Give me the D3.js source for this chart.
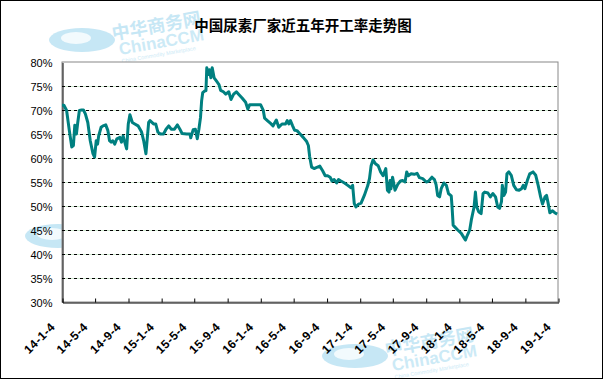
<!DOCTYPE html>
<html><head><meta charset="utf-8">
<script src="https://cdn.jsdelivr.net/npm/d3@7/dist/d3.min.js"></script>
<style>
html,body{margin:0;padding:0;background:#fff;}
svg{display:block;}
</style></head>
<body><svg id="c" width="606" height="381"></svg>
<script>
const title = "中国尿素厂家近五年开工率走势图";
const yTicks = [30,35,40,45,50,55,60,65,70,75,80];
const xTickDates = ["2014-01-04","2014-05-04","2014-09-04","2015-01-04","2015-05-04","2015-09-04","2016-01-04","2016-05-04","2016-09-04","2017-01-04","2017-05-04","2017-09-04","2018-01-04","2018-05-04","2018-09-04","2019-01-04"];
const dates = ["2014-01-04","2014-01-11","2014-01-21","2014-01-31","2014-02-09","2014-02-15","2014-02-20","2014-02-26","2014-03-03","2014-03-09","2014-03-17","2014-03-24","2014-03-31","2014-04-09","2014-04-18","2014-04-28","2014-05-04","2014-05-10","2014-05-15","2014-05-19","2014-05-28","2014-06-04","2014-06-14","2014-06-22","2014-06-28","2014-07-04","2014-07-10","2014-07-17","2014-07-25","2014-08-05","2014-08-11","2014-08-17","2014-08-23","2014-08-30","2014-09-05","2014-09-11","2014-09-20","2014-09-29","2014-10-11","2014-10-24","2014-11-01","2014-11-09","2014-11-19","2014-11-24","2014-12-07","2014-12-15","2014-12-23","2015-01-01","2015-01-13","2015-01-22","2015-02-01","2015-02-10","2015-02-22","2015-03-05","2015-03-14","2015-03-22","2015-04-08","2015-04-20","2015-04-23","2015-05-02","2015-05-10","2015-05-17","2015-05-23","2015-05-29","2015-06-02","2015-06-06","2015-06-14","2015-06-18","2015-06-21","2015-06-26","2015-07-01","2015-07-06","2015-07-11","2015-07-18","2015-07-27","2015-08-05","2015-08-11","2015-08-21","2015-08-30","2015-09-10","2015-09-18","2015-09-28","2015-10-08","2015-10-16","2015-10-29","2015-11-11","2015-11-19","2015-11-26","2015-12-11","2016-01-05","2016-01-15","2016-01-20","2016-01-30","2016-02-11","2016-02-20","2016-03-03","2016-03-12","2016-03-24","2016-04-06","2016-04-12","2016-04-18","2016-04-24","2016-05-02","2016-05-09","2016-05-18","2016-05-28","2016-06-10","2016-06-22","2016-06-29","2016-07-04","2016-07-11","2016-07-20","2016-07-28","2016-08-10","2016-08-20","2016-08-30","2016-09-08","2016-09-17","2016-09-24","2016-10-02","2016-10-11","2016-10-18","2016-10-27","2016-11-09","2016-11-21","2016-12-03","2016-12-09","2016-12-15","2016-12-21","2016-12-31","2017-01-09","2017-01-21","2017-02-03","2017-02-09","2017-02-15","2017-02-22","2017-03-03","2017-03-13","2017-03-22","2017-03-31","2017-04-10","2017-04-16","2017-04-22","2017-04-26","2017-04-29","2017-05-05","2017-05-14","2017-05-24","2017-06-03","2017-06-11","2017-06-20","2017-06-26","2017-07-02","2017-07-12","2017-07-24","2017-08-03","2017-08-12","2017-08-24","2017-09-06","2017-09-15","2017-09-27","2017-10-06","2017-10-12","2017-10-18","2017-10-25","2017-10-31","2017-11-10","2017-11-19","2017-11-27","2017-12-07","2017-12-10","2017-12-14","2017-12-19","2017-12-31","2018-01-13","2018-01-28","2018-02-05","2018-02-13","2018-02-19","2018-03-01","2018-03-06","2018-03-11","2018-03-18","2018-03-27","2018-04-03","2018-04-09","2018-04-21","2018-04-30","2018-05-09","2018-05-19","2018-05-27","2018-06-03","2018-06-10","2018-06-13","2018-06-19","2018-06-25","2018-06-30","2018-07-07","2018-07-16","2018-07-25","2018-08-04","2018-08-14","2018-08-23","2018-08-29","2018-09-04","2018-09-13","2018-09-22","2018-10-04","2018-10-14","2018-10-23","2018-11-01","2018-11-08","2018-11-17","2018-11-23","2018-11-29","2018-12-05","2018-12-15","2018-12-23","2019-01-01"];
const rates = [71.0,71.0,69.9,65.7,62.3,62.6,66.8,65.0,67.4,69.9,70.0,70.0,69.2,67.4,63.6,60.9,60.2,63.6,62.9,64.6,66.4,66.7,66.9,65.7,63.6,63.3,63.6,62.9,64.0,64.3,63.3,64.6,63.3,61.9,67.1,69.0,67.4,67.1,66.7,65.4,63.5,60.9,67.4,67.8,67.1,67.1,65.4,65.0,65.0,66.0,66.7,66.0,66.0,66.9,66.0,65.1,65.0,65.0,64.2,65.9,66.0,64.0,66.0,68.5,71.9,73.6,74.0,74.0,78.8,77.4,78.4,76.7,78.8,76.7,76.0,75.3,74.1,73.8,73.3,73.8,72.2,73.3,73.8,73.3,72.5,71.6,70.2,71.1,71.1,71.1,69.9,68.3,67.8,67.2,66.7,67.9,66.4,67.1,67.1,67.8,67.1,67.8,66.7,65.8,65.7,65.1,64.3,63.5,62.6,60.2,58.1,57.8,58.0,58.3,57.4,56.3,56.3,56.0,55.2,55.5,54.8,55.5,55.2,54.8,54.3,53.8,54.3,50.5,49.8,50.4,50.6,52.2,54.3,55.7,58.4,59.6,58.8,58.4,57.1,56.3,57.8,53.3,52.9,55.3,53.6,56.0,53.3,54.5,55.2,55.3,55.0,57.1,56.3,56.7,56.6,56.8,55.9,55.7,55.0,55.2,56.0,55.5,54.5,52.2,51.9,53.6,54.8,54.3,52.6,52.1,49.8,46.0,45.7,45.0,44.3,42.9,44.0,45.0,47.1,49.8,52.9,49.8,48.8,48.4,52.6,52.9,52.7,51.9,52.6,51.9,49.8,49.5,50.9,54.3,52.2,52.9,56.7,57.1,56.4,54.3,53.4,53.3,53.6,54.3,53.6,55.3,56.7,57.1,56.4,54.3,51.9,50.4,51.9,52.2,50.5,48.6,49.0,48.6,48.3];

const svg = d3.select("#c");
const W = 606, H = 381;
const M = {left:62, right:558, top:62, bottom:302};
const parse = d3.timeParse("%Y-%m-%d");
const fmt = d3.timeFormat("%y-%-m-%-d");
const data = dates.map((d,i)=>({date:parse(d), v:rates[i]}));
const tickDates = xTickDates.map(parse);

const x = d3.scaleTime().domain([tickDates[0], tickDates[tickDates.length-1]]).range([M.left, M.right]);
const y = d3.scaleLinear().domain([30,80]).range([M.bottom, M.top]);

svg.append("rect").attr("width",W).attr("height",H).attr("fill","#fff");

// watermarks (faint logos)
function watermark(cx, cy, op){
  const g = svg.append("g").attr("transform",`translate(${cx},${cy})`).attr("opacity",op);
  g.append("ellipse").attr("cx",0).attr("cy",0).attr("rx",33).attr("ry",12).attr("fill","#8fd0ec");
  g.append("ellipse").attr("cx",-6).attr("cy",-2).attr("rx",15).attr("ry",6).attr("fill","#e6f6fc");
  g.append("text").attr("x",31).attr("y",0).attr("transform","rotate(-10 31 0)")
    .attr("font-family","Noto Sans CJK SC").attr("font-size",18).attr("font-weight","bold").attr("fill","#8fd0ec").text("中华商务网");
  g.append("text").attr("x",38).attr("y",15).attr("transform","rotate(-10 38 15)")
    .attr("font-family","Liberation Sans").attr("font-size",17).attr("font-weight","bold").attr("fill","#9ad6ef").text("ChinaCCM");
  g.append("text").attr("x",40).attr("y",23).attr("transform","rotate(-10 40 23)")
    .attr("font-family","Liberation Sans").attr("font-size",5.5).attr("fill","#9ad6ef").text("China Commodity Marketplace");
}
watermark(82, 40, 0.5);
watermark(58, 236, 0.5);
watermark(355, 356, 0.5);

// plot area
svg.append("rect").attr("x",M.left).attr("y",M.top).attr("width",M.right-M.left).attr("height",M.bottom-M.top)
  .attr("fill","#fff").attr("stroke","#888").attr("stroke-width",1);

// gridlines
const gl = svg.append("g");
yTicks.filter(t=>t>30 && t<80).forEach(t=>{
  const yy = Math.round(y(t))+0.5;
  gl.append("line").attr("x1",M.left).attr("x2",M.right).attr("y1",yy).attr("y2",yy)
    .attr("stroke","#cfe9cf").attr("stroke-width",1);
  gl.append("line").attr("x1",M.left).attr("x2",M.right).attr("y1",yy).attr("y2",yy)
    .attr("stroke","#000").attr("stroke-width",1).attr("stroke-dasharray","3,3");
});

// axes
const yAxis = d3.axisLeft(y).tickValues(yTicks).tickFormat(d=>d+"%").tickSize(0).tickPadding(10);
const ya = svg.append("g").attr("transform",`translate(${M.left+0.5},0.5)`).call(yAxis);
ya.select(".domain").attr("stroke","#000");
ya.selectAll("text").attr("font-family","Liberation Sans, Arial").attr("font-size",11).attr("fill","#000");

const xAxis = d3.axisBottom(x).tickValues(tickDates).tickFormat(fmt).tickSizeInner(-4).tickSizeOuter(0);
const xa = svg.append("g").attr("transform",`translate(0.5,${M.bottom+0.5})`).call(xAxis);
xa.select(".domain").attr("stroke","#000");
xa.selectAll(".tick line").attr("stroke","#000");
xa.selectAll("text").attr("font-family","Liberation Sans, Arial").attr("font-size",12).attr("font-weight","bold").attr("fill","#000")
  .attr("letter-spacing","0.6px")
  .attr("text-anchor","end").attr("dy",null).attr("y",null)
  .attr("transform","translate(-7,25) rotate(-45)");

// line
const line = d3.line().x(d=>x(d.date)).y(d=>y(d.v));
svg.append("path").datum(data).attr("d",line).attr("fill","none").attr("stroke","#008080")
  .attr("stroke-width",3).attr("stroke-linejoin","round");

// title
svg.append("text").attr("x",303).attr("y",31).attr("text-anchor","middle")
  .attr("font-family","Noto Sans CJK SC").attr("font-size",14.5).attr("font-weight","bold").attr("fill","#000").text(title);

// outer border
svg.append("rect").attr("x",0.5).attr("y",0.5).attr("width",602).attr("height",378).attr("fill","none").attr("stroke","#000");
</script></body></html>
